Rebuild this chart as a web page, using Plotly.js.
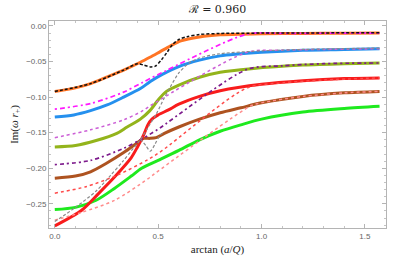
<!DOCTYPE html>
<html>
<head>
<meta charset="utf-8">
<script src="https://cdn.plot.ly/plotly-3.0.1.min.js"></script>
<style>html,body{margin:0;padding:0;background:#fff;}#chart{width:407px;height:263px;}</style>
</head>
<body>
<div id="chart"></div>
<script>
// ---- data ----
const orangeX = [0, 0.1, 0.173, 0.25, 0.333, 0.414, 0.46, 0.51, 0.56, 0.61, 0.7, 0.8, 0.9, 1.0, 1.2, 1.4, 1.5708];
const orangeY = [-0.092, -0.087, -0.081, -0.072, -0.062, -0.051, -0.044, -0.036, -0.028, -0.021, -0.0155, -0.0125, -0.0115, -0.011, -0.0105, -0.0102, -0.010];

const blackX = [0, 0.173, 0.333, 0.40, 0.43, 0.462, 0.486, 0.515, 0.543, 0.57, 0.6, 0.64, 0.7, 0.8, 1.0, 1.2, 1.5708];
const blackY = [-0.092, -0.081, -0.062, -0.053, -0.055, -0.0575, -0.0565, -0.048, -0.037, -0.026, -0.019, -0.015, -0.012, -0.0105, -0.010, -0.0098, -0.0095];

const blueX = [0, 0.092, 0.173, 0.253, 0.333, 0.414, 0.462, 0.52, 0.6, 0.7, 0.8, 1.0, 1.2, 1.4, 1.5708];
const blueY = [-0.128, -0.125, -0.119, -0.111, -0.100, -0.088, -0.078, -0.068, -0.057, -0.048, -0.042, -0.037, -0.034, -0.033, -0.032];

const magentaX = [0, 0.173, 0.333, 0.42, 0.495, 0.93, 1.1, 1.3, 1.5708];
const magentaY = [-0.117, -0.109, -0.093, -0.080, -0.069, -0.0115, -0.0105, -0.0102, -0.010];

const oliveX = [0, 0.1, 0.2, 0.3, 0.35, 0.414, 0.46, 0.5, 0.54, 0.6, 0.7, 0.8, 0.95, 1.2, 1.4, 1.5708];
const oliveY = [-0.170, -0.168, -0.161, -0.151, -0.142, -0.131, -0.119, -0.104, -0.092, -0.083, -0.072, -0.065, -0.060, -0.055, -0.053, -0.052];

const violetX = [0, 0.173, 0.333, 0.42, 0.479, 0.93, 1.1, 1.3, 1.5708];
const violetY = [-0.157, -0.146, -0.132, -0.120, -0.109, -0.037, -0.034, -0.033, -0.032];

const purpleX = [0, 0.173, 0.333, 0.414, 0.495, 0.93, 1.1, 1.3, 1.5708];
const purpleY = [-0.195, -0.189, -0.172, -0.160, -0.146, -0.061, -0.056, -0.053, -0.052];

const redX = [0, 0.13, 0.21, 0.29, 0.37, 0.40, 0.43, 0.45, 0.47, 0.5, 0.55, 0.6, 0.7, 0.8, 1.0, 1.2, 1.4, 1.5708];
const redY = [-0.281, -0.259, -0.236, -0.212, -0.185, -0.170, -0.153, -0.139, -0.131, -0.125, -0.118, -0.110, -0.099, -0.091, -0.082, -0.077, -0.074, -0.073];

const brownX = [0, 0.1, 0.173, 0.25, 0.333, 0.40, 0.43, 0.46, 0.49, 0.53, 0.6, 0.7, 0.8, 0.9, 1.0, 1.2, 1.4, 1.5708];
const brownY = [-0.214, -0.211, -0.205, -0.193, -0.178, -0.164, -0.158, -0.158, -0.157, -0.151, -0.142, -0.131, -0.122, -0.115, -0.108, -0.099, -0.094, -0.092];

const greenX = [0, 0.1, 0.2, 0.29, 0.37, 0.42, 0.5, 0.6, 0.7, 0.8, 0.9, 1.0, 1.2, 1.4, 1.5708];
const greenY = [-0.258, -0.255, -0.245, -0.228, -0.211, -0.200, -0.189, -0.175, -0.160, -0.148, -0.139, -0.131, -0.121, -0.116, -0.113];

const grayX = [0, 0.1, 0.2, 0.27, 0.33, 0.38, 0.414, 0.45, 0.49, 0.53, 0.56, 0.6, 0.65, 0.7, 0.8, 1.0, 1.2, 1.5708];
const grayY = [-0.275, -0.255, -0.232, -0.210, -0.190, -0.172, -0.160, -0.143, -0.124, -0.101, -0.085, -0.066, -0.052, -0.045, -0.039, -0.035, -0.033, -0.031];

const gray2X = [0.414, 0.44, 0.462, 0.485, 0.51, 0.525];
const gray2Y = [-0.159, -0.168, -0.176, -0.166, -0.153, -0.150];

const redDotX = [0, 0.15, 0.3, 0.45, 0.52, 0.93, 1.1, 1.3, 1.5708];
const redDotY = [-0.235, -0.226, -0.210, -0.188, -0.175, -0.087, -0.080, -0.076, -0.073];

const pinkDotX = [0, 0.13, 0.29, 0.45, 0.50, 0.95, 1.0, 1.2, 1.4, 1.5708];
const pinkDotY = [-0.273, -0.262, -0.245, -0.215, -0.204, -0.112, -0.108, -0.099, -0.094, -0.092];

const titleText = 'ℛ = 0.960';
const xTitle = 'arctan (<i>a</i>/<i>Q</i>)';
const yTitle = 'Im(<i>ω r</i><sub>+</sub>)';

// ---- traces ----
function tr(x, y, color, width, dash, opacity) {
  return {x: x, y: y, type: 'scatter', mode: 'lines', hoverinfo: 'skip',
    opacity: opacity || 1,
    line: {color: color, width: width, dash: dash || 'solid', shape: 'spline', smoothing: 0.8}};
}
const data = [
  tr(greenX, greenY, '#1eea1e', 3),
  tr(brownX, brownY, '#ae5320', 3),
  tr(redX, redY, '#f81c1c', 3),
  tr(oliveX, oliveY, '#93b41b', 3),
  tr(blueX, blueY, '#2590ee', 3),
  tr(orangeX, orangeY, '#ff7424', 3),
  tr(pinkDotX, pinkDotY, '#ff8c8c', 1.5, 'dot'),
  tr(redDotX, redDotY, '#ff4a4a', 1.5, 'dot'),
  tr(purpleX, purpleY, '#7d1a8c', 1.7, '2px,3px,4px,3px'),
  tr(violetX, violetY, '#cc5fd6', 1.5, 'dot'),
  tr(magentaX, magentaY, '#ff19ff', 1.7, '2px,3px,5px,3px'),
  tr(grayX, grayY, '#8a8a8a', 1.2, '3px,2px'),
  tr(gray2X, gray2Y, '#8a8a8a', 1.2, '3px,2px'),
  tr(blackX, blackY, '#111111', 1.5, '3px,2px')
];

const axisCommon = {
  showgrid: false, zeroline: false, showline: true, linecolor: '#b4b4b4', linewidth: 1,
  mirror: 'ticks', ticks: 'inside', ticklen: 4, tickcolor: '#b4b4b4', tickwidth: 1,
  tickfont: {family: 'Liberation Sans, Arial, sans-serif', size: 8, color: '#666666'},
  minor: {ticks: 'inside', ticklen: 2, tickcolor: '#c4c4c4', tickwidth: 1}
};

const layout = {
  width: 407, height: 263,
  margin: {l: 49, r: 21, t: 21, b: 35, pad: 0},
  paper_bgcolor: '#ffffff', plot_bgcolor: '#ffffff',
  showlegend: false,
  title: {text: titleText, x: 0.5, xref: 'paper', xanchor: 'center', y: 0.966, yref: 'container', yanchor: 'middle',
          font: {family: 'DejaVu Serif, Liberation Serif, serif', size: 11, color: '#222222'}},
  xaxis: Object.assign({}, axisCommon, {
    range: [-0.028, 1.602], tickvals: [0, 0.5, 1.0, 1.5], ticktext: ['0.0', '0.5', '1.0', '1.5'],
    minor: Object.assign({}, axisCommon.minor, {tickvals: [0.1,0.2,0.3,0.4,0.6,0.7,0.8,0.9,1.1,1.2,1.3,1.4]}),
    title: {text: xTitle, standoff: 5, font: {family: 'Liberation Serif, DejaVu Serif, serif', size: 11, color: '#222222'}}
  }),
  yaxis: Object.assign({}, axisCommon, {
    range: [-0.284, 0.007], tickvals: [0, -0.05, -0.10, -0.15, -0.20, -0.25],
    ticktext: ['0.00', '\u22120.05', '\u22120.10', '\u22120.15', '\u22120.20', '\u22120.25'],
    minor: Object.assign({}, axisCommon.minor, {dtick: 0.01, tick0: 0}),
    title: {text: yTitle, standoff: 5, font: {family: 'Liberation Serif, DejaVu Serif, serif', size: 11, color: '#222222'}}
  })
};

Plotly.newPlot('chart', data, layout, {staticPlot: true, displayModeBar: false});
</script>
</body>
</html>
